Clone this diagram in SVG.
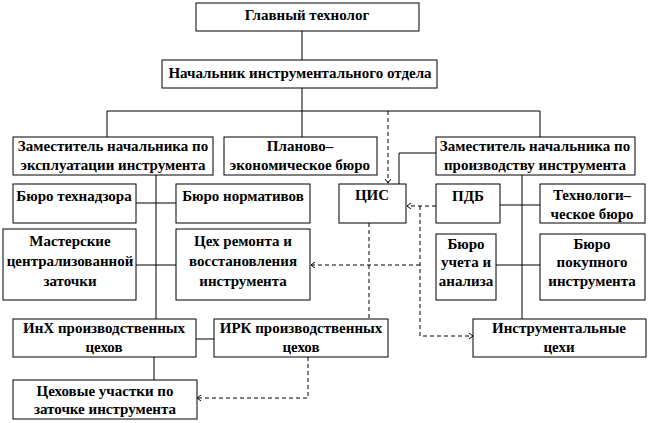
<svg xmlns="http://www.w3.org/2000/svg" width="649" height="423" viewBox="0 0 649 423">
<style>
.b{fill:#fff;stroke:#000;stroke-width:1}
.t{font-family:"Liberation Serif","Times New Roman",serif;font-weight:bold;font-size:15px;text-anchor:middle;fill:#000}
.c{fill:none;stroke:#000;stroke-width:1}
.d{fill:none;stroke:#000;stroke-width:1;stroke-dasharray:4,3}
</style>
<defs>
<marker id="ah" markerUnits="userSpaceOnUse" markerWidth="8" markerHeight="8" refX="4" refY="3" orient="auto">
<path d="M0,0 L4,3 L0,6" fill="none" stroke="#000" stroke-width="1"/>
</marker>
</defs>
<rect width="649" height="423" fill="#fff"/>
<g id="connectors">
<path class="c" d="M302,31V60M302,88V137M107,137V111H540V137M436,153H399V184M156,175V319M136,203H176M136,265H176M196,339H214M154,357V380M522,175V319M500,205H540M496,265H540"/>
<path class="d" d="M388,111V183" marker-end="url(#ah)"/>
<path class="d" d="M436,206H407" marker-end="url(#ah)"/>
<path class="d" d="M420,206V336H473" marker-end="url(#ah)"/>
<path class="d" d="M420,265H311" marker-end="url(#ah)"/>
<path class="d" d="M369,223V319"/>
<path class="d" d="M308,357V398H197" marker-end="url(#ah)"/>
</g>
<g id="n1"><rect class="b" x="196" y="3" width="223" height="28"/><text class="t" x="307" y="20">Главный технолог</text></g>
<g id="n2"><rect class="b" x="162" y="60" width="275" height="28"/><text class="t" x="300" y="78">Начальник инструментального отдела</text></g>
<g id="n3"><rect class="b" x="13" y="137" width="200" height="38"/><text class="t" x="113" y="151">Заместитель начальника по</text><text class="t" x="113" y="170">эксплуатации инструмента</text></g>
<g id="n4"><rect class="b" x="224" y="137" width="153" height="38"/><text class="t" x="300" y="151">Планово–</text><text class="t" x="300" y="170">экономическое бюро</text></g>
<g id="n5"><rect class="b" x="436" y="137" width="199" height="38"/><text class="t" x="535" y="151">Заместитель начальника по</text><text class="t" x="535" y="170">производству инструмента</text></g>
<g id="n6"><rect class="b" x="13" y="184" width="123" height="39"/><text class="t" x="74" y="201">Бюро технадзора</text></g>
<g id="n7"><rect class="b" x="176" y="184" width="134" height="39"/><text class="t" x="243" y="201">Бюро нормативов</text></g>
<g id="n8"><rect class="b" x="339" y="184" width="67" height="39"/><text class="t" x="372" y="200">ЦИС</text></g>
<g id="n9"><rect class="b" x="436" y="184" width="64" height="39"/><text class="t" x="468" y="201">ПДБ</text></g>
<g id="n10"><rect class="b" x="540" y="184" width="105" height="39"/><text class="t" x="592" y="200">Технологи–</text><text class="t" x="592" y="219">ческое бюро</text></g>
<g id="n11"><rect class="b" x="3" y="229" width="133" height="71"/><text class="t" x="70" y="246">Мастерские</text><text class="t" x="70" y="266">централизованной</text><text class="t" x="70" y="286">заточки</text></g>
<g id="n12"><rect class="b" x="176" y="229" width="134" height="71"/><text class="t" x="243" y="246">Цех ремонта и</text><text class="t" x="243" y="266">восстановления</text><text class="t" x="243" y="286">инструмента</text></g>
<g id="n13"><rect class="b" x="436" y="234" width="60" height="66"/><text class="t" x="466" y="249">Бюро</text><text class="t" x="466" y="267">учета и</text><text class="t" x="466" y="286">анализа</text></g>
<g id="n14"><rect class="b" x="540" y="234" width="105" height="66"/><text class="t" x="592" y="249">Бюро</text><text class="t" x="592" y="267">покупного</text><text class="t" x="592" y="286">инструмента</text></g>
<g id="n15"><rect class="b" x="13" y="319" width="183" height="38"/><text class="t" x="104" y="333">ИнХ производственных</text><text class="t" x="104" y="352">цехов</text></g>
<g id="n16"><rect class="b" x="214" y="319" width="174" height="38"/><text class="t" x="301" y="333">ИРК производственных</text><text class="t" x="301" y="352">цехов</text></g>
<g id="n17"><rect class="b" x="473" y="319" width="173" height="38"/><text class="t" x="559" y="333">Инструментальные</text><text class="t" x="559" y="352">цехи</text></g>
<g id="n18"><rect class="b" x="13" y="380" width="184" height="39"/><text class="t" x="105" y="396">Цеховые участки по</text><text class="t" x="105" y="414">заточке инструмента</text></g>
</svg>
